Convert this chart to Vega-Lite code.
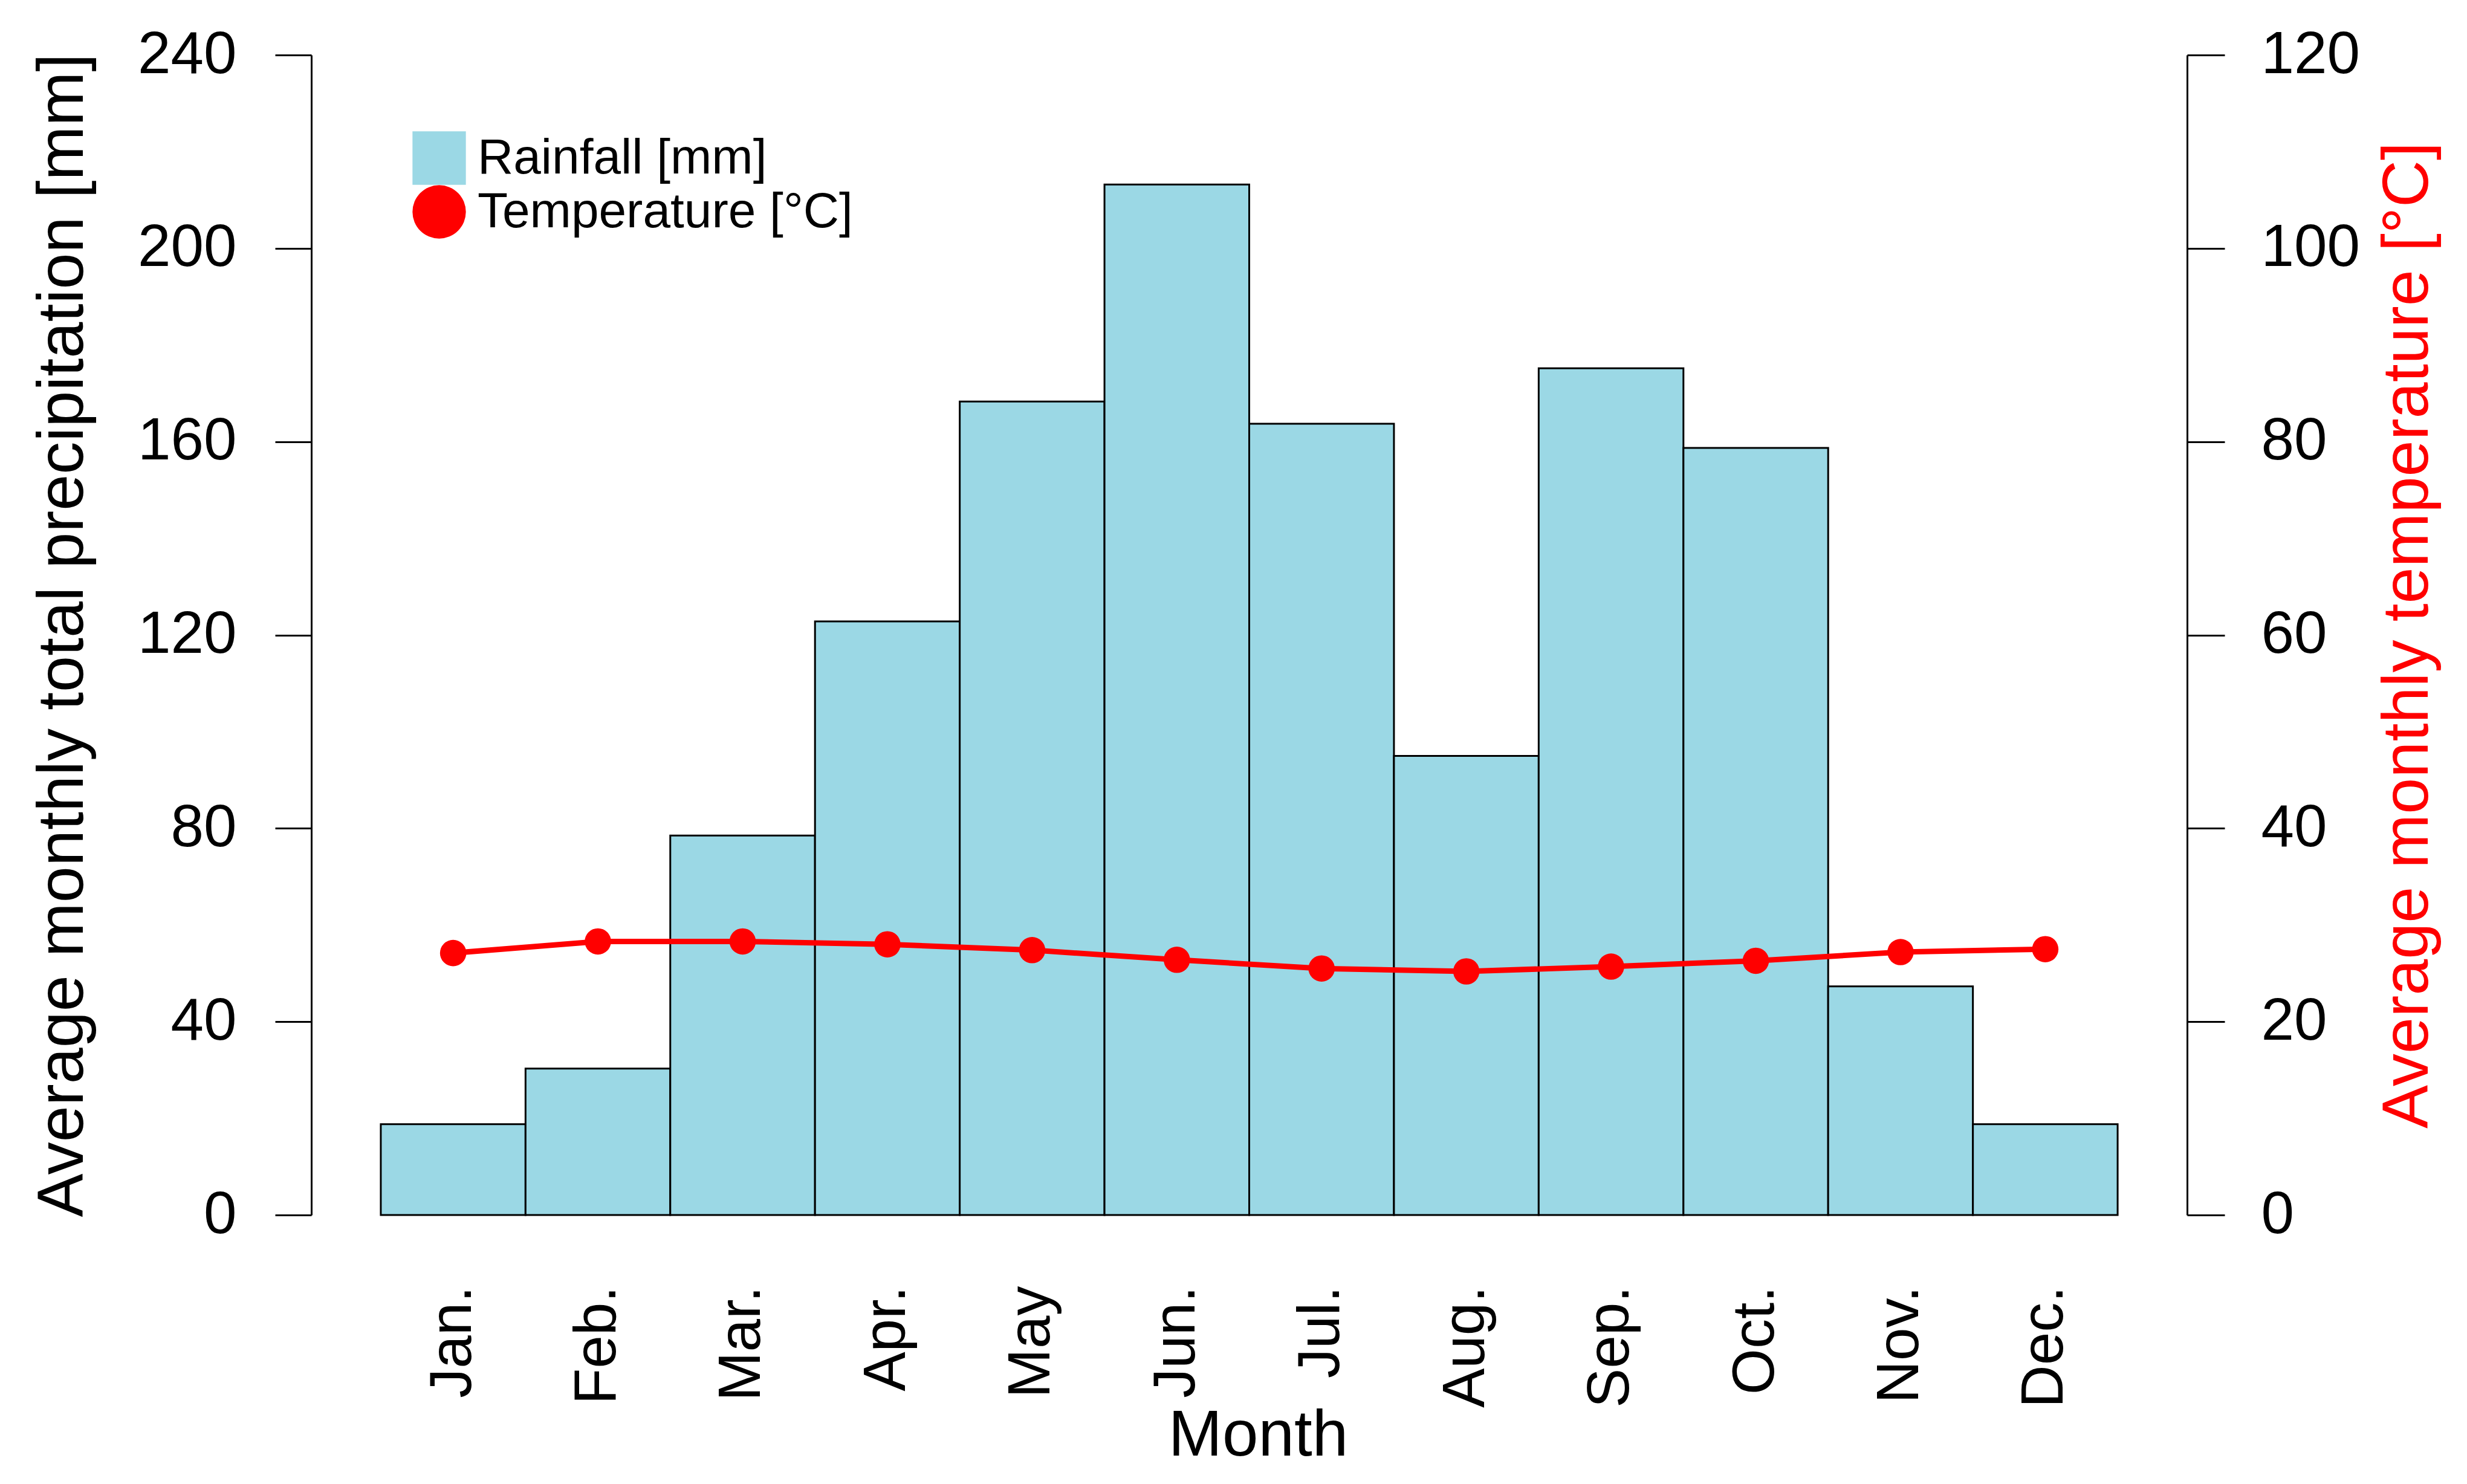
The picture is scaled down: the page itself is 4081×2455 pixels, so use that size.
{
  "$schema": "https://vega.github.io/schema/vega-lite/v6.json",
  "width": 3103,
  "height": 1919,
  "autosize": {"type": "none"},
  "padding": {"left": 515, "top": 91, "right": 463, "bottom": 445},
  "background": "white",
  "config": {
    "font": "Liberation Sans",
    "view": {"stroke": null},
    "axis": {"grid": false, "labelFont": "Liberation Sans", "titleFont": "Liberation Sans", "labelColor": "black", "titleColor": "black", "titleFontWeight": "normal", "labelLimit": 0}
  },
  "data": {
    "values": [
      {"month": "Jan.", "rain": 18.8, "temp": 27.1},
      {"month": "Feb.", "rain": 30.3, "temp": 28.3},
      {"month": "Mar.", "rain": 78.5, "temp": 28.3},
      {"month": "Apr.", "rain": 122.8, "temp": 28.0},
      {"month": "May", "rain": 168.3, "temp": 27.4},
      {"month": "Jun.", "rain": 213.2, "temp": 26.4},
      {"month": "Jul.", "rain": 163.7, "temp": 25.5},
      {"month": "Aug.", "rain": 95.0, "temp": 25.2},
      {"month": "Sep.", "rain": 175.2, "temp": 25.7},
      {"month": "Oct.", "rain": 158.7, "temp": 26.3},
      {"month": "Nov.", "rain": 47.3, "temp": 27.2},
      {"month": "Dec.", "rain": 18.8, "temp": 27.5}
    ]
  },
  "encoding": {
    "x": {
      "field": "month",
      "type": "nominal",
      "sort": null,
      "scale": {"paddingInner": 0, "paddingOuter": 0.48},
      "axis": {
        "title": "Month",
        "titleFontSize": 107,
        "titleX": 1566,
        "titleY": 397,
        "titleBaseline": "alphabetic",
        "titleAlign": "center",
        "labelAngle": 270,
        "labelFontSize": 98,
        "labelPadding": 117,
        "labelLimit": 0,
        "ticks": false,
        "tickSize": 0,
        "domain": false
      }
    }
  },
  "layer": [
    {
      "mark": {"type": "bar", "stroke": "black", "strokeWidth": 3},
      "encoding": {
        "y": {
          "field": "rain",
          "type": "quantitative",
          "scale": {"domain": [0, 240], "nice": false, "zero": true},
          "axis": {
            "orient": "left",
            "title": "Average monthly total precipitation [mm]",
            "titleFontSize": 108,
            "titleAngle": 270,
            "titleX": -379,
            "titleBaseline": "alphabetic",
            "titleAlign": "center",
            "values": [0, 40, 80, 120, 160, 200, 240],
            "labelFontSize": 98,
            "labelPadding": 64,
            "tickSize": 60,
            "tickWidth": 3,
            "tickColor": "black",
            "domainColor": "black",
            "domainWidth": 3
          }
        },
        "color": {
          "datum": "Rainfall [mm]",
          "scale": {"domain": ["Rainfall [mm]", "Temperature [°C]"], "range": ["#9BD8E5", "#FF0000"]},
          "legend": {
            "title": null,
            "orient": "none",
            "legendX": 167,
            "legendY": 126,
            "padding": 0,
            "labelFontSize": 82,
            "labelColor": "black",
            "labelFont": "Liberation Sans",
            "labelLimit": 0,
            "labelOffset": 19,
            "symbolSize": 7800,
            "symbolStrokeWidth": 0,
            "rowPadding": -8,
            "symbolOpacity": 1,
            "symbolType": {"expr": "datum.value === 'Rainfall [mm]' ? 'square' : 'circle'"}
          }
        }
      }
    },
    {
      "encoding": {
        "y": {
          "field": "temp",
          "type": "quantitative",
          "scale": {"domain": [0, 120], "nice": false, "zero": true},
          "axis": {
            "orient": "right",
            "title": "Average monthly temperature [°C]",
            "titleColor": "#FF0000",
            "titleFontSize": 108,
            "titleAngle": 270,
            "titleX": 397,
            "titleBaseline": "alphabetic",
            "titleAlign": "center",
            "values": [0, 20, 40, 60, 80, 100, 120],
            "labelFontSize": 98,
            "labelPadding": 60,
            "tickSize": 62,
            "tickWidth": 3,
            "tickColor": "black",
            "domainColor": "black",
            "domainWidth": 3
          }
        }
      },
      "layer": [
        {
          "mark": {"type": "line", "color": "#FF0000", "strokeWidth": 9}
        },
        {
          "mark": {"type": "point", "filled": true, "size": 1900, "opacity": 1},
          "encoding": {"color": {"datum": "Temperature [°C]"}}
        }
      ]
    }
  ],
  "resolve": {"scale": {"y": "independent"}}
}
